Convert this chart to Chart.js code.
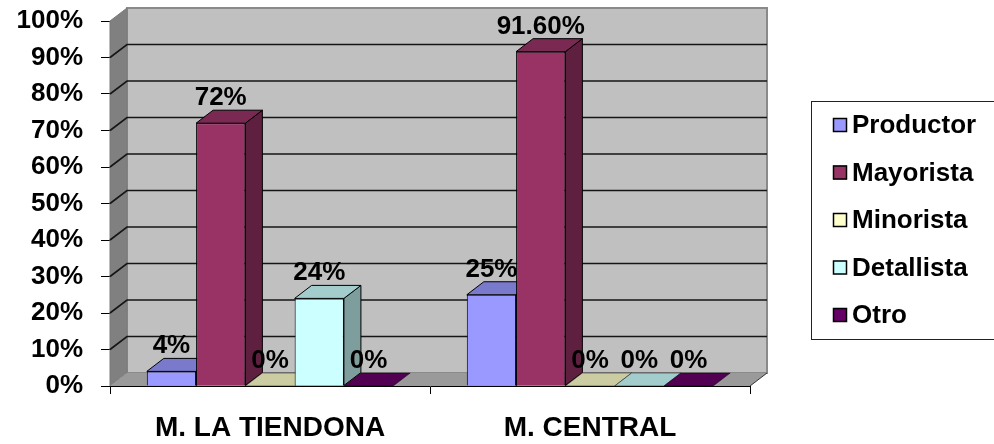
<!DOCTYPE html>
<html>
<head>
<meta charset="utf-8">
<script src="https://cdn.jsdelivr.net/npm/chart.js@4.4.1/dist/chart.umd.min.js"></script>
<style>
  html, body { margin: 0; padding: 0; background: #ffffff; }
  #wrap { width: 994px; height: 444px; position: relative; }
</style>
</head>
<body>
<div id="wrap"><canvas id="c" width="994" height="444"></canvas></div>
<script>
// Market categories and the share of each supplier type (percent)
const categories = ['M. LA TIENDONA', 'M. CENTRAL'];
const seriesNames = ['Productor', 'Mayorista', 'Minorista', 'Detallista', 'Otro'];
const productor  = [4, 25];
const mayorista  = [72, 91.6];
const minorista  = [0, 0];
const detallista = [24, 0];
const otro       = [0, 0];
const yTickMin = 0, yTickMax = 100, yTickStep = 10;

const seriesValues = [productor, mayorista, minorista, detallista, otro];
const seriesColors = ['#9999FF', '#993366', '#FFFFCC', '#CCFFFF', '#660066'];

const FONT = '"Liberation Sans", Arial, sans-serif';
const DX = 17, DY = 13;   // depth offset of the pseudo-3D box

function shade(hex, k) {
  const n = parseInt(hex.slice(1), 16);
  const r = Math.round(((n >> 16) & 255) * k);
  const g = Math.round(((n >> 8) & 255) * k);
  const b = Math.round((n & 255) * k);
  return 'rgb(' + r + ',' + g + ',' + b + ')';
}
function fmt(v) {
  return Number.isInteger(v) ? v + '%' : v.toFixed(2) + '%';
}
function poly(ctx, pts, fill, stroke, lw) {
  ctx.beginPath();
  ctx.moveTo(pts[0][0], pts[0][1]);
  for (let i = 1; i < pts.length; i++) ctx.lineTo(pts[i][0], pts[i][1]);
  ctx.closePath();
  if (fill) { ctx.fillStyle = fill; ctx.fill(); }
  if (stroke) { ctx.strokeStyle = stroke; ctx.lineWidth = lw || 1; ctx.stroke(); }
}

// Walls, floor, back gridlines, extruded bars, value labels and legend panel
const box3d = {
  id: 'box3d',
  beforeDatasetsDraw(chart) {
    const ctx = chart.ctx;
    const ys = chart.scales.y;
    const ca = chart.chartArea;
    const L = ca.left, R = ca.right;
    const y0 = ys.getPixelForValue(yTickMin);
    const yT = ys.getPixelForValue(yTickMax);
    ctx.save();
    // back wall
    poly(ctx, [[L + DX, yT - DY], [R + DX, yT - DY], [R + DX, y0 - DY], [L + DX, y0 - DY]], '#C0C0C0', '#8a8a8a', 2);
    // left side wall
    poly(ctx, [[L, yT], [L + DX, yT - DY], [L + DX, y0 - DY], [L, y0]], '#808080', '#7a7a7a', 1);
    // floor
    poly(ctx, [[L, y0], [L + DX, y0 - DY], [R + DX, y0 - DY], [R, y0]], '#9a9a9a', null);
    ctx.beginPath();
    ctx.moveTo(R, y0); ctx.lineTo(R + DX, y0 - DY);
    ctx.strokeStyle = '#333'; ctx.lineWidth = 1; ctx.stroke();
    // gridlines on back and side walls
    ctx.strokeStyle = '#151515';
    ctx.lineWidth = 1.6;
    for (let v = yTickMin + yTickStep; v < yTickMax; v += yTickStep) {
      const y = ys.getPixelForValue(v);
      ctx.beginPath();
      ctx.moveTo(L, y);
      ctx.lineTo(L + DX, y - DY);
      ctx.lineTo(R + DX, y - DY);
      ctx.stroke();
    }
    ctx.restore();
  },
  // bars are painted below in left-to-right order so that depth overlaps correctly
  beforeDatasetDraw() { return false; },
  afterDatasetsDraw(chart) {
    const ctx = chart.ctx;
    ctx.save();
    chart.data.datasets.forEach((ds, di) => {
      const meta = chart.getDatasetMeta(di);
      const col = ds.backgroundColor;
      meta.data.forEach((el) => {
        const p = el.getProps(['x', 'y', 'base', 'width'], true);
        const l = p.x - p.width / 2, r = p.x + p.width / 2;
        const top = p.y, base = p.base;
        if (base - top > 0.5) {
          poly(ctx, [[r, top], [r + DX, top - DY], [r + DX, base - DY], [r, base]], shade(col, 0.62), '#000', 1);
          poly(ctx, [[l, top], [l + DX, top - DY], [r + DX, top - DY], [r, top]], shade(col, 0.8), '#000', 1);
          el.draw(ctx);
        } else {
          poly(ctx, [[l, base], [l + DX, base - DY], [r + DX, base - DY], [r, base]], shade(col, 0.8), 'rgba(0,0,0,0.45)', 1);
        }
      });
    });
    // value labels
    ctx.font = 'bold 26px ' + FONT;
    ctx.fillStyle = '#000';
    ctx.textAlign = 'center';
    ctx.textBaseline = 'alphabetic';
    chart.data.datasets.forEach((ds, di) => {
      const meta = chart.getDatasetMeta(di);
      meta.data.forEach((el, i) => {
        const p = el.getProps(['x', 'y'], true);
        ctx.fillText(fmt(ds.data[i]), p.x, p.y - DY - 5);
      });
    });
    ctx.restore();
  },
  afterDraw(chart) {
    const ctx = chart.ctx;
    ctx.save();
    ctx.fillStyle = '#fff';
    ctx.fillRect(811, 101, 190, 238);
    ctx.strokeStyle = '#222';
    ctx.lineWidth = 1;
    ctx.strokeRect(811.5, 101.5, 190, 238);
    ctx.font = 'bold 26px ' + FONT;
    ctx.textAlign = 'left';
    ctx.textBaseline = 'middle';
    chart.data.datasets.forEach((ds, i) => {
      const cy = 125 + i * 47.5;
      ctx.fillStyle = ds.backgroundColor;
      ctx.fillRect(833, cy - 7, 14, 14);
      ctx.strokeStyle = '#000';
      ctx.lineWidth = 1.5;
      ctx.strokeRect(833.5, cy - 6.5, 13, 13);
      ctx.fillStyle = '#000';
      ctx.fillText(ds.label, 852, cy + 1);
    });
    ctx.restore();
  }
};

const datasets = seriesNames.map((name, i) => ({
  label: name,
  data: seriesValues[i],
  backgroundColor: seriesColors[i],
  borderColor: '#000',
  borderWidth: 1,
  categoryPercentage: 0.77,
  barPercentage: 1.0
}));

new Chart(document.getElementById('c'), {
  type: 'bar',
  data: { labels: categories, datasets },
  plugins: [box3d],
  options: {
    responsive: false,
    animation: false,
    layout: { padding: { top: 21, right: 244, left: 0, bottom: 0 } },
    plugins: { legend: { display: false }, tooltip: { enabled: false } },
    scales: {
      x: {
        offset: true,
        grid: { display: true, drawOnChartArea: false, drawTicks: true, tickLength: 8, color: '#000', offset: true },
        border: { display: true, color: '#000', width: 1 },
        ticks: { color: '#000', font: { family: FONT, size: 28, weight: 'bold' }, padding: 17 },
        afterFit(s) { s.height = 58; }
      },
      y: {
        min: yTickMin,
        max: yTickMax,
        grid: { display: true, drawOnChartArea: false, drawTicks: true, tickLength: 9, color: '#000' },
        border: { display: true, color: '#000', width: 1 },
        ticks: {
          stepSize: yTickStep,
          color: '#000',
          padding: 18,
          font: { family: FONT, size: 26, weight: 'bold' },
          callback: v => v + '%'
        },
        afterFit(s) { s.width = 110; s.paddingTop = 0; s.paddingBottom = 0; }
      }
    }
  }
});
</script>
</body>
</html>
